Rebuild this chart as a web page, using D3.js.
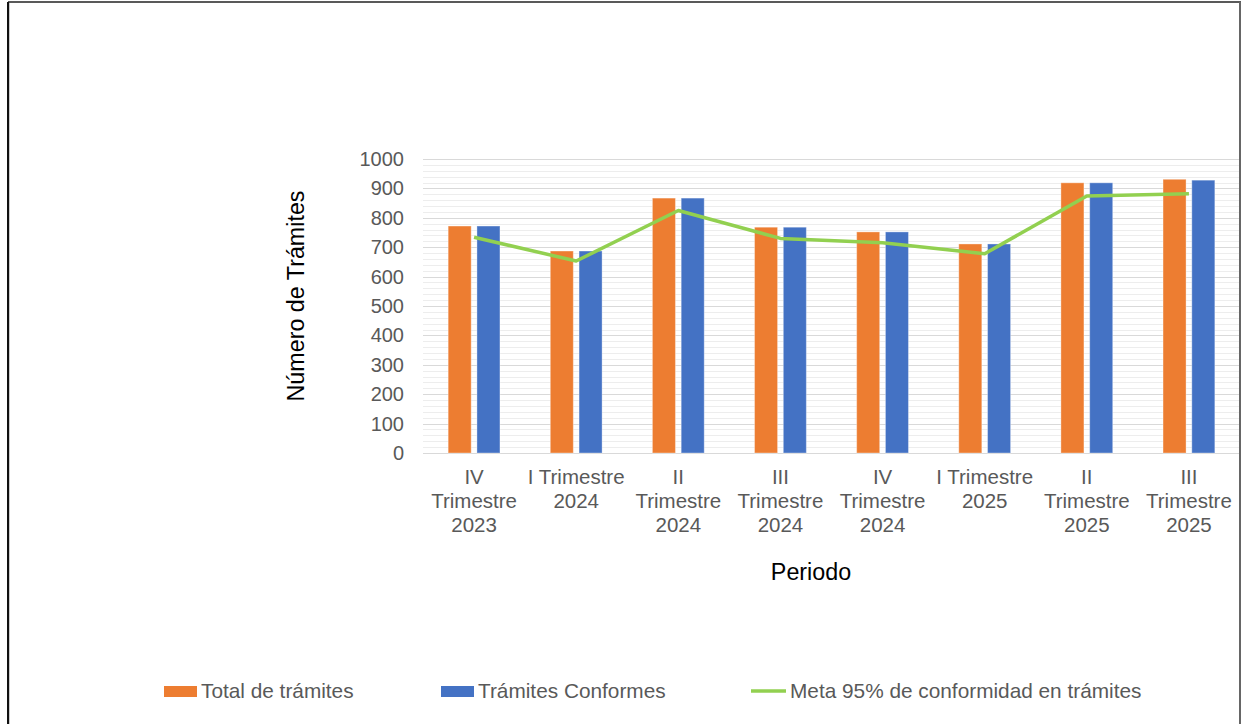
<!DOCTYPE html>
<html>
<head>
<meta charset="utf-8">
<script src="https://cdn.jsdelivr.net/npm/d3@7"></script>
<style>
  html, body { margin: 0; padding: 0; background: #fff; }
  svg { display: block; font-family: "Liberation Sans", Arial, sans-serif; }
</style>
</head>
<body>
<svg id="chart" width="1248" height="724"></svg>
<script>
// Quarterly periods (each label split into its display lines)
const periodos = [
  ["IV", "Trimestre", "2023"],
  ["I Trimestre", "2024"],
  ["II", "Trimestre", "2024"],
  ["III", "Trimestre", "2024"],
  ["IV", "Trimestre", "2024"],
  ["I Trimestre", "2025"],
  ["II", "Trimestre", "2025"],
  ["III", "Trimestre", "2025"]
];
const totalTramites    = [772, 687, 867, 768, 752, 711, 919, 931];
const tramitesConformes = [772, 687, 867, 768, 752, 711, 919, 928];
const metaConformidad  = [734, 653, 825, 730, 715, 678, 874, 882];
const yTicks = [0, 100, 200, 300, 400, 500, 600, 700, 800, 900, 1000];

const seriesNames = ["Total de trámites", "Trámites Conformes"];
const seriesColors = ["#ED7D31", "#4472C4"];
const lineColor = "#92D050";
const textGray = "#595959";

const svg = d3.select("#chart");

// Frame around the chart
svg.append("line").attr("x1", 8).attr("x2", 1241).attr("y1", 2).attr("y2", 2)
  .attr("stroke", "#222").attr("stroke-width", 1.5);
svg.append("line").attr("x1", 8).attr("x2", 8).attr("y1", 2).attr("y2", 724)
  .attr("stroke", "#111").attr("stroke-width", 2);
svg.append("line").attr("x1", 9.5).attr("x2", 9.5).attr("y1", 3).attr("y2", 724)
  .attr("stroke", "#ccc").attr("stroke-width", 1);
svg.append("line").attr("x1", 1240).attr("x2", 1240).attr("y1", 2).attr("y2", 724)
  .attr("stroke", "#666").attr("stroke-width", 2);

const plot = { left: 423, right: 1240, top: 159, bottom: 453 };

const keys = periodos.map(p => p.join(" "));
const x0 = d3.scaleBand().domain(keys).range([plot.left, plot.right]).padding(0);
const x1 = d3.scaleBand().domain(seriesNames).range([-25.9, 25.9]).paddingInner(0.2);
const y = d3.scaleLinear().domain([0, 1000]).range([plot.bottom, plot.top]);

// Minor gridlines every 20, major every 100
const minor = d3.range(20, 1001, 20).filter(v => v % 100 !== 0);
svg.append("g").selectAll("line").data(minor).join("line")
  .attr("x1", plot.left).attr("x2", plot.right - 1)
  .attr("y1", d => Math.round(y(d)) + 0.5).attr("y2", d => Math.round(y(d)) + 0.5)
  .attr("stroke", "#ededed").attr("stroke-width", 1);
svg.append("g").selectAll("line").data(yTicks).join("line")
  .attr("x1", plot.left).attr("x2", plot.right - 1)
  .attr("y1", d => Math.round(y(d)) + 0.5).attr("y2", d => Math.round(y(d)) + 0.5)
  .attr("stroke", "#d9d9d9").attr("stroke-width", 1);

// Y axis tick labels
const yAxis = d3.axisLeft(y).tickValues(yTicks).tickFormat(d3.format("d"))
  .tickSize(0).tickPadding(0);
const yg = svg.append("g").attr("transform", `translate(404,0)`).call(yAxis);
yg.select(".domain").remove();
yg.selectAll("text").attr("fill", textGray).style("font-size", "20px")
  .style("font-family", "'Liberation Sans', Arial, sans-serif");

// Bars
const groups = svg.append("g").selectAll("g").data(periodos.map((p, i) => i)).join("g")
  .attr("transform", i => `translate(${x0(keys[i]) + x0.bandwidth() / 2},0)`);
groups.selectAll("rect")
  .data(i => [totalTramites[i], tramitesConformes[i]].map((v, s) => ({ v, s })))
  .join("rect")
  .attr("x", d => x1(seriesNames[d.s]))
  .attr("width", x1.bandwidth())
  .attr("y", d => y(d.v))
  .attr("height", d => y(0) - y(d.v))
  .attr("fill", d => seriesColors[d.s])
  .attr("stroke", "rgba(255,255,255,0.35)")
  .attr("stroke-width", 1);

// Goal line
const line = d3.line()
  .x((d, i) => x0(keys[i]) + x0.bandwidth() / 2)
  .y(d => y(d));
svg.append("path").datum(metaConformidad)
  .attr("d", line)
  .attr("fill", "none").attr("stroke", lineColor).attr("stroke-width", 3.5)
  .attr("stroke-linejoin", "round");

// X axis category labels (multi-line)
const xg = svg.append("g");
periodos.forEach((lines, i) => {
  const cx = x0(keys[i]) + x0.bandwidth() / 2;
  const t = xg.append("text").attr("text-anchor", "middle").attr("fill", textGray)
    .style("font-size", "20.5px");
  lines.forEach((ln, j) => {
    t.append("tspan").attr("x", cx).attr("y", 484 + j * 24).text(ln);
  });
});

// Axis titles
svg.append("text").attr("transform", "translate(304,296) rotate(-90)")
  .attr("text-anchor", "middle").attr("fill", "#000").style("font-size", "23.3px")
  .text("Número de Trámites");
svg.append("text").attr("x", 811).attr("y", 580)
  .attr("text-anchor", "middle").attr("fill", "#000").style("font-size", "23.3px")
  .text("Periodo");

// Legend
const legend = svg.append("g");
const legendItems = [
  { name: seriesNames[0], type: "rect", color: seriesColors[0], x: 164 },
  { name: seriesNames[1], type: "rect", color: seriesColors[1], x: 441 },
  { name: "Meta 95% de conformidad en trámites", type: "line", color: lineColor, x: 751 }
];
legendItems.forEach(it => {
  if (it.type === "rect") {
    legend.append("rect").attr("x", it.x).attr("y", 686).attr("width", 33).attr("height", 11)
      .attr("fill", it.color);
  } else {
    legend.append("line").attr("x1", it.x).attr("x2", it.x + 35)
      .attr("y1", 691).attr("y2", 691)
      .attr("stroke", it.color).attr("stroke-width", 3.5);
  }
  legend.append("text").attr("x", it.x + (it.type === "rect" ? 37 : 39)).attr("y", 698)
    .attr("fill", textGray).style("font-size", "20.8px").text(it.name);
});
</script>
</body>
</html>
